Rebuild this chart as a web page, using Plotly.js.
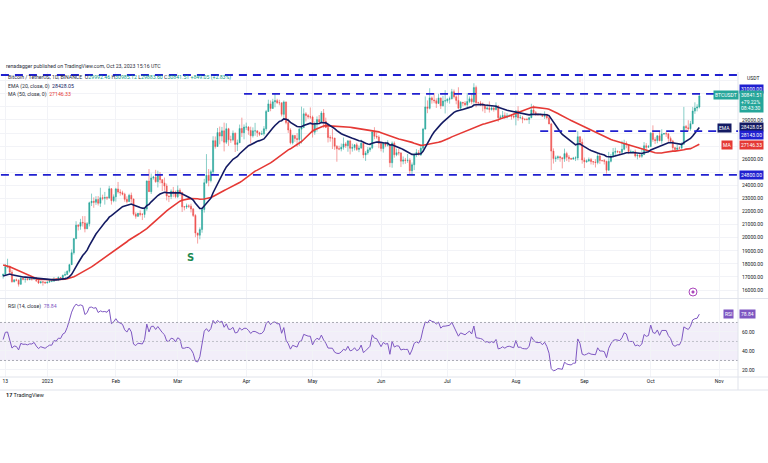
<!DOCTYPE html>
<html>
<head>
<meta charset="utf-8">
<script src="https://cdn.plot.ly/plotly-3.0.1.min.js"></script>
<style>html,body{margin:0;padding:0;background:#fff;}#chart{width:768px;height:463px;}</style>
</head>
<body>
<div id="chart"></div>
<script>
// ---- DATA (BTCUSDT daily, Binance) ----
const firstDate = '2022-12-12';
// closes before the first visible bar (used only to warm up the MA/EMA/RSI)
const warmupClose = [19330,20080,20770,20290,20600,20810,20630,20490,
 20480,20150,20200,21150,21300,20910,20590,18540,15880,17590,17070,16810,16330,16620,16900,16660,16690,16700,16630,16280,15780,16230,16600,16600,16520,16460,16440,16220,16440,17170,
 16980,17090,16890,17110,16970,17090,16840,17220,17130,17130,17090];

const open = [
 17090,17210,17780,17810,17360,16630,16780,16740,16440,16900,16820,16830,16780,16840,16830,16920,16700,16540,16630,16600,
 16540,16610,16670,16670,16850,16830,16950,16940,17120,17180,17440,17940,18850,19930,20960,20880,21170,21130,20680,21070,22670,22780,22710,22920,22630,23060,23010,23070,23030,23740,22830,
 23130,23730,23490,23430,23330,22930,22760,23240,22960,21800,21630,21860,21780,21780,22200,24330,23520,24570,24630,24280,24840,24440,24190,23950,23190,23150,23550,23490,
 23140,23630,23470,22360,22350,22430,22410,22200,21700,20360,20190,20630,22160,24200,24770,24370,25050,27420,26970,28040,27770,28170,27300,28330,27480,27480,27990,27130,27260,28350,28030,
 28460,28460,28200,27790,28170,28170,28030,27910,27950,28330,29650,30230,29880,30390,30480,30320,30320,29430,30380,28800,28240,27260,27820,27590,27510,28300,28420,29470,29340,29240,
 29230,28070,28680,29030,28840,29530,28900,28430,27660,27630,27620,26990,26800,26780,26920,27170,27030,27400,26830,26890,27100,26750,26850,27220,26330,26480,26720,26870,28090,27750,27700,
 27210,26820,27250,27070,27120,25730,27230,26340,26500,26480,25850,25940,25900,25920,25120,25580,26330,26510,26340,26840,28310,30000,29890,30690,30530,30470,30270,30690,30080,30450,
 30470,30590,30620,31160,30770,30500,29900,30350,30290,30170,30410,30620,30390,31480,30320,30300,30230,30140,29860,29910,29800,29910,29800,30080,29180,29230,29350,29210,29320,29350,29280,
 29230,29700,29170,29180,29070,29050,29040,29180,29770,29560,29430,29400,29420,29280,29410,29170,28700,26620,26050,26100,26190,26120,26040,26430,26160,26050,26010,26090,26100,27720,27300,
 25940,25800,25870,25970,25820,25790,25750,26240,25900,25900,25840,25160,25840,26220,26530,26600,26570,26530,26760,27210,27130,26570,26580,26580,26250,26300,26220,26350,27030,26910,
 26970,27990,27500,27430,27790,27410,27930,27960,27940,27590,27390,26880,26750,26860,26850,27150,28510,28410,28330,28720,29680,29910,29992.46];

const high = [
 17240,18000,18390,17850,17530,16800,16870,16820,17060,16920,16870,16960,16860,16860,16940,16970,16780,16660,16650,16640,
 16630,16760,16770,16990,16880,17040,16980,17180,17400,17490,18000,19110,19960,21260,21040,21440,21650,21650,21190,22750,23370,23080,23170,23180,23820,23290,23500,23170,23960,23800,23310,
 23810,24260,23700,23590,23440,23160,23360,23450,22990,21940,21900,22090,21890,22320,24380,25250,24900,24730,25190,25120,25020,24470,24600,24140,23220,23690,23880,23600,
 24000,23780,23480,22420,22610,22550,22600,22270,21800,20370,20790,22190,24500,26390,25250,25200,27760,27740,28390,28500,28470,28800,28750,28400,27800,28200,28040,27500,28650,29180,28660,
 28800,28530,28490,28440,28780,28190,28100,28180,28530,29770,30550,30490,30620,31000,30620,30550,30320,30490,30410,29100,28370,27880,27820,28000,28400,30020,29890,29600,29450,29960,
 29340,28880,29270,29380,29680,29840,29180,28650,27830,28320,27640,27070,27030,27200,27660,27300,27470,27490,27190,27160,27260,27050,27500,27220,26630,26930,26890,28200,28450,28040,27830,
 27350,27300,27330,27460,27130,27360,27360,26810,26780,26530,26210,26100,26400,26080,25750,26480,26770,26700,26990,28400,30800,30500,31430,30800,31050,30660,31000,30700,30840,31280,
 30660,30790,31380,31330,30880,31500,30450,30380,30450,31050,30800,30980,31810,31630,30390,30460,30340,30230,30200,30420,30060,29990,30350,30100,29400,29690,29580,29530,29410,29450,29530,
 29740,30050,29410,29310,29110,29170,29240,30240,30130,29690,29540,29480,29450,29660,29480,29230,28780,26830,26270,26290,26260,26130,26810,26570,26320,26110,26180,26220,28140,27760,27570,
 26130,25980,26130,26100,25860,26000,26440,26430,25940,26020,25880,26560,26400,26860,26880,26670,26630,27410,27490,27370,27160,26740,26640,26740,26430,26390,26830,27310,27230,27090,
 28070,28590,27680,27830,28130,28290,28000,28100,27990,27740,27480,26940,27130,26980,27290,30000,28620,28980,28930,30000,30350,30200,30985.12];

const low = [
 16870,17080,17660,17280,16560,16580,16660,16260,16400,16740,16560,16760,16770,16710,16790,16610,16460,16500,16330,16480,
 16500,16550,16600,16660,16750,16680,16910,16910,17100,17150,17320,17910,18710,19890,20550,20610,20850,20410,20660,20860,22420,22290,22510,22460,22350,22860,22530,22880,22980,22530,22710,
 22760,23370,23210,23240,22750,22630,22740,22680,21690,21450,21600,21630,21350,21530,22050,23510,23340,24440,24200,23840,24150,23570,23600,22850,22720,22950,23100,23020,
 23020,23200,21970,22090,22200,22270,21930,21580,20040,19550,19880,20380,21920,24120,23930,24230,24880,26810,26940,27140,27370,26600,27160,27020,27250,27370,26550,26630,27240,27700,27520,
 28240,27870,27200,27660,27800,27710,27770,27880,27800,28170,29610,29670,29870,29970,30230,30120,29270,29100,28670,28010,27140,27130,27330,26940,27020,27200,28380,28880,29090,29080,
 27660,27870,28110,28670,28800,28380,28380,27280,27340,26780,26720,25810,26690,26600,26730,26860,26570,26370,26580,26670,26640,26540,26800,26080,25870,26340,26560,26770,27530,27560,26840,
 26600,26510,26920,26970,25390,25350,26120,26230,26290,25400,25610,25650,25730,24820,24760,25170,26160,26280,26250,26660,28260,29520,29810,30250,30280,29920,30220,29840,30040,29500,
 30320,30250,30580,30640,30200,29850,29700,30050,30070,29950,30290,30200,30250,29970,30250,30070,29660,29530,29770,29570,29720,29640,29730,28860,29040,29110,29070,29120,29260,29030,29110,
 28590,28940,29100,28750,28960,28960,28700,29130,29380,29320,29350,29360,29250,29080,29050,28680,25170,25670,25800,25970,25810,25300,25800,25860,25780,25960,25970,25860,25920,27020,25660,
 25330,25730,25800,25600,25570,25370,25610,25650,25800,25600,24900,25130,25760,26130,26220,26470,26380,26420,26680,26840,26390,26480,26510,26130,25990,26090,26110,26340,26670,26890,
 26960,27330,27170,27220,27380,27180,27860,27710,27260,27300,26560,26560,26680,26810,26800,27110,28090,28140,28180,28670,29470,29660,29883.60];

const close = [
 17210,17780,17810,17360,16630,16780,16740,16440,16900,16820,16830,16780,16840,16830,16920,16700,16540,16630,16600,16540,
 16610,16670,16670,16850,16830,16950,16940,17120,17180,17440,17940,18850,19930,20960,20880,21170,21130,20680,21070,22670,22780,22710,22920,22630,23060,23010,23070,23030,23740,22830,23130,
 23730,23490,23430,23330,22930,22760,23240,22960,21800,21630,21860,21780,21780,22200,24330,23520,24570,24630,24280,24840,24440,24190,23950,23190,23150,23550,23490,23140,
 23630,23470,22360,22350,22430,22410,22200,21700,20360,20190,20630,22160,24200,24770,24370,25050,27420,26970,28040,27770,28170,27300,28330,27480,27480,27990,27130,27260,28350,28030,28460,
 28460,28200,27790,28170,28170,28030,27910,27950,28330,29650,30230,29880,30390,30480,30320,30320,29430,30380,28800,28240,27260,27820,27590,27510,28300,28420,29470,29340,29240,29230,
 28070,28680,29030,28840,29530,28900,28430,27660,27630,27620,26990,26800,26780,26920,27170,27030,27400,26830,26890,27100,26750,26850,27220,26330,26480,26720,26870,28090,27750,27700,27210,
 26820,27250,27070,27120,25730,27230,26340,26500,26480,25850,25940,25900,25920,25120,25580,26330,26510,26340,26840,28310,30000,29890,30690,30530,30470,30270,30690,30080,30450,30470,
 30590,30620,31160,30770,30500,29900,30350,30290,30170,30410,30620,30390,31480,30320,30300,30230,30140,29860,29910,29800,29910,29800,30080,29180,29230,29350,29210,29320,29350,29280,29230,
 29700,29170,29180,29070,29050,29040,29180,29770,29560,29430,29400,29420,29280,29410,29170,28700,26620,26050,26100,26190,26120,26040,26430,26160,26050,26010,26090,26100,27720,27300,25940,
 25800,25870,25970,25820,25790,25750,26240,25900,25900,25840,25160,25840,26220,26530,26600,26570,26530,26760,27210,27130,26570,26580,26580,26250,26300,26220,26350,27030,26910,26970,
 27990,27500,27430,27790,27410,27930,27960,27940,27590,27390,26880,26750,26860,26850,27150,28510,28410,28330,28720,29680,29910,29990,30841.51];

// horizontal levels drawn by the author
const levelPrices = [32440, 31000, 28143, 24800];
const levelStarts = ['2022-12-11', '2023-03-31', '2023-08-12', '2022-12-11'];

// axis ticks
const priceTicks = [16000,17000,18000,19000,20000,21000,22000,23000,24000,26000,29000];
const rsiTicks = [20, 40, 60];
const monthTicks = ['2022-12-13','2023-01-01','2023-02-01','2023-03-01','2023-04-01','2023-05-01','2023-06-01','2023-07-01','2023-08-01','2023-09-01','2023-10-01','2023-11-01'];
const monthLabels = ['13','2023','Feb','Mar','Apr','May','Jun','Jul','Aug','Sep','Oct','Nov'];

// ---- indicators (computed from the closes) ----
const dates = close.map((_, i) => {
  const d = new Date(Date.parse(firstDate + 'T00:00:00Z') + i * 86400000);
  return d.toISOString().slice(0, 10);
});
const all = warmupClose.concat(close);
function sma(a, n) {
  return a.map((_, i) => {
    if (i < n - 1) return null;
    let s = 0; for (let k = i - n + 1; k <= i; k++) s += a[k];
    return s / n;
  });
}
function ema(a, n) {
  const out = []; const alpha = 2 / (n + 1); let prev = null;
  for (let i = 0; i < a.length; i++) {
    if (i < n - 1) { out.push(null); continue; }
    if (prev === null) { let s = 0; for (let k = i - n + 1; k <= i; k++) s += a[k]; prev = s / n; }
    else prev = alpha * a[i] + (1 - alpha) * prev;
    out.push(prev);
  }
  return out;
}
function rsi(a, n) {
  const out = [null]; let ag = 0, al = 0;
  for (let i = 1; i < a.length; i++) {
    const ch = a[i] - a[i - 1]; const g = Math.max(ch, 0), l = Math.max(-ch, 0);
    if (i < n) { ag += g; al += l; out.push(null); continue; }
    if (i === n) { ag = (ag + g) / n; al = (al + l) / n; }
    else { ag = (ag * (n - 1) + g) / n; al = (al * (n - 1) + l) / n; }
    out.push(al === 0 ? 100 : 100 - 100 / (1 + ag / al));
  }
  return out;
}
const W = warmupClose.length;
const ema20 = ema(all, 20).slice(W);
const ma50 = sma(all, 50).slice(W);
const rsi14 = rsi(all, 14).slice(W);

// ---- layout helpers ----
const FONT = 'Roboto, "Noto Sans", sans-serif';
const PW = 738, PT = 72, PB = 377, PH = PB - PT;
const px = x => x / PW;
const py = y => (PB - y) / PH;
const UP = '#26a69a', DOWN = '#ef5350', NAVY = '#131a62', MARED = '#e53935', LVL = '#2020d0', PURP = '#7e57c2';
const xRange = ['2022-12-10 14:00', '2023-11-09 12:00'];

function ann(x, y, text, o) {
  return Object.assign({xref:'paper', yref:'paper', x:px(x), y:py(y), text:text, showarrow:false,
    xanchor:'left', yanchor:'middle', font:{family:FONT, size:5.2, color:'#2a2e39'}}, o || {});
}
function tag(x, y, text, bg, o) {
  return ann(x, y, text, Object.assign({bgcolor:bg, borderpad:1, font:{family:FONT, size:5, color:'#ffffff'}}, o || {}));
}

const traces = [
  {type:'candlestick', x:dates, open:open, high:high, low:low, close:close, xaxis:'x', yaxis:'y',
   increasing:{line:{color:UP, width:0.55}, fillcolor:UP}, decreasing:{line:{color:DOWN, width:0.55}, fillcolor:DOWN},
   whiskerwidth:0, hoverinfo:'skip'},
  {type:'scatter', mode:'lines', x:dates, y:ma50, xaxis:'x', yaxis:'y', line:{color:MARED, width:1.6}, hoverinfo:'skip'},
  {type:'scatter', mode:'lines', x:dates, y:ema20, xaxis:'x', yaxis:'y', line:{color:NAVY, width:1.6}, hoverinfo:'skip'},
  {type:'scatter', mode:'lines', x:dates, y:rsi14, xaxis:'x', yaxis:'y2', line:{color:PURP, width:1}, hoverinfo:'skip'}
];

const shapes = [
  {type:'rect', xref:'paper', yref:'y2', x0:0, x1:1, y0:30, y1:70, fillcolor:'rgba(126,87,194,0.1)', line:{width:0}, layer:'below'},
  {type:'line', xref:'paper', yref:'y2', x0:0, x1:1, y0:70, y1:70, line:{color:'#9598a1', width:0.8, dash:'2px,2px'}},
  {type:'line', xref:'paper', yref:'y2', x0:0, x1:1, y0:50, y1:50, line:{color:'#b2b5be', width:0.8, dash:'2px,2px'}},
  {type:'line', xref:'paper', yref:'y2', x0:0, x1:1, y0:30, y1:30, line:{color:'#9598a1', width:0.8, dash:'2px,2px'}},
  // pane borders
  {type:'line', xref:'paper', yref:'paper', x0:0, x1:768/PW, y0:py(298.5), y1:py(298.5), line:{color:'#e0e3eb', width:1}},
  {type:'line', xref:'paper', yref:'paper', x0:0, x1:768/PW, y0:0, y1:0, line:{color:'#e0e3eb', width:1}},
  {type:'line', xref:'paper', yref:'paper', x0:1, x1:1, y0:py(390), y1:1, line:{color:'#e0e3eb', width:1}},
  {type:'line', xref:'paper', yref:'paper', x0:0, x1:768/PW, y0:py(390), y1:py(390), line:{color:'#e0e3eb', width:1}},
  // event icon
  {type:'circle', xref:'paper', yref:'paper', x0:px(689), x1:px(697), y0:py(296), y1:py(288), line:{color:'#ab47bc', width:1}, fillcolor:'#fff'},
  {type:'circle', xref:'paper', yref:'paper', x0:px(691.8), x1:px(694.2), y0:py(293.2), y1:py(290.8), line:{color:'#ab47bc', width:0.8}, fillcolor:'#ab47bc'}
];
levelPrices.forEach((p, i) => shapes.push({type:'line', xref:'x', yref:'y', x0:levelStarts[i], x1:xRange[1], y0:p, y1:p,
  line:{color:LVL, width:1.8, dash:'8px,6px'}}));

const teal = s => '<span style="color:#089981">' + s + '</span>';
const annotations = [
  ann(4, 66, 'renadagger published on TradingView.com, Oct 23, 2023 15:16 UTC'),
  ann(6, 77.5, 'Bitcoin / TetherUS, 1D, BINANCE  O' + teal('29992.46') + ' H' + teal('30985.12') + ' L' + teal('29883.60') + ' C' + teal('30841.51') + ' ' + teal('+849.05 (+2.83%)')),
  ann(6, 86, 'EMA (20, close, 0)  <span style="color:' + NAVY + '">28428.05</span>'),
  ann(6, 94, 'MA (50, close, 0)  <span style="color:' + MARED + '">27146.33</span>'),
  ann(6, 306, 'RSI (14, close)  <span style="color:' + PURP + '">78.84</span>'),
  ann(190, 257, '<b>S</b>', {xanchor:'center', font:{family:'"DejaVu Sans", sans-serif', size:10, color:'#1e8a52'}}),
  ann(745, 78, 'USDT', {font:{family:FONT, size:5, color:'#131722'}}),
  tag(739, 89, '31000.00', LVL),
  tag(713, 95, 'BTCUSDT', UP),
  tag(739, 101.5, '30841.51<br>+79.22%<br>08:43:30', UP, {align:'left'}),
  tag(717, 128, 'EMA', NAVY),
  tag(739, 127, '28428.05', NAVY),
  tag(739, 135, '28143.00', LVL),
  tag(721, 145, 'MA', MARED),
  tag(739, 145, '27146.33', MARED),
  tag(739, 175, '24800.00', LVL),
  tag(723, 314, 'RSI', PURP),
  tag(739, 314, '78.84', PURP),
  ann(4, 395, '<b>17</b> TradingView', {font:{family:FONT, size:5.5, color:'#131722'}})
];

const grid = '#f2f3f7';
const layout = {
  width:768, height:463, paper_bgcolor:'#ffffff', plot_bgcolor:'#ffffff',
  margin:{l:0, r:30, t:PT, b:463 - PB}, showlegend:false, hovermode:false,
  font:{family:FONT, size:5, color:'#131722'},
  xaxis:{type:'date', range:xRange, anchor:'y2', domain:[0,1], tickvals:monthTicks, ticktext:monthLabels,
    showgrid:true, gridcolor:grid, gridwidth:1, zeroline:false, showline:false, ticks:'',
    tickfont:{family:FONT, size:5, color:'#131722'}, rangeslider:{visible:false}, fixedrange:true},
  yaxis:{domain:[py(298), 1], range:[15388, 32670], side:'right', anchor:'x', tickvals:priceTicks, tickformat:'.2f',
    showgrid:true, gridcolor:grid, zeroline:false, showline:false, ticks:'', ticklabelstandoff:3,
    minor:{tick0:0, dtick:1000, showgrid:true, gridcolor:grid},
    tickfont:{family:FONT, size:5, color:'#131722'}, fixedrange:true},
  yaxis2:{domain:[0, py(299)], range:[12.6, 94.7], side:'right', anchor:'x', tickvals:rsiTicks, tickformat:'.2f',
    showgrid:true, gridcolor:grid, zeroline:false, showline:false, ticks:'', ticklabelstandoff:3,
    tickfont:{family:FONT, size:5, color:'#131722'}, fixedrange:true},
  shapes:shapes, annotations:annotations
};

Plotly.newPlot('chart', traces, layout, {staticPlot:true, displayModeBar:false});
</script>
</body>
</html>
